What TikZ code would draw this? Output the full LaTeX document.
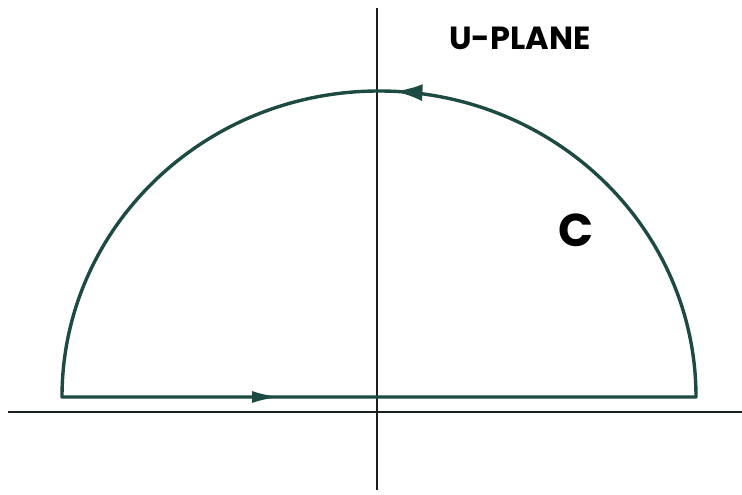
\documentclass[tikz,border=0pt]{standalone}
\usepackage{fontspec}
\setmainfont{Poppins}
\usetikzlibrary{arrows.meta,decorations.markings}
\definecolor{contourcol}{HTML}{1D4A42}
\definecolor{axiscol}{HTML}{1A1F1F}
\tikzset{
  axis/.style={draw=axiscol, line width=2.3pt},
  contour/.style={draw=contourcol, line width=3.4pt, line join=round,
    postaction={decorate},
    decoration={markings,
      mark=at position 218pt with {\arrow[contourcol]{Latex[length=28pt,width=12pt]}},
      mark=at position 1108pt with {\arrow[contourcol]{Latex[length=28pt,width=17pt]}}}},
  lbl/.style={font=\bfseries, text=black, inner sep=0pt}
}
\begin{document}
\begin{tikzpicture}[x=1pt,y=1pt]
  \useasboundingbox[fill=white] (0,0) rectangle (742,495);
  % axes
  \coordinate (xl) at (8,83);
  \coordinate (xr) at (742,83);
  \coordinate (yb) at (377,5);
  \coordinate (yt) at (377,487);
  \draw[axis] (xl) -- (xr);
  \draw[axis] (yb) -- (yt);
  % contour
  \coordinate (A) at (62,98);
  \coordinate (B) at (696,98);
  \draw[contour] (A) -- (B) arc[start angle=0, end angle=180, x radius=317, y radius=306] -- cycle;
  % labels
  \node[lbl, font=\fontsize{32}{34}\selectfont\bfseries] (plane) at (520,457) {U-PLANE};
  \node[lbl, font=\fontsize{46}{48}\selectfont\bfseries] (c) at (576,265) {C};
\end{tikzpicture}
\end{document}
